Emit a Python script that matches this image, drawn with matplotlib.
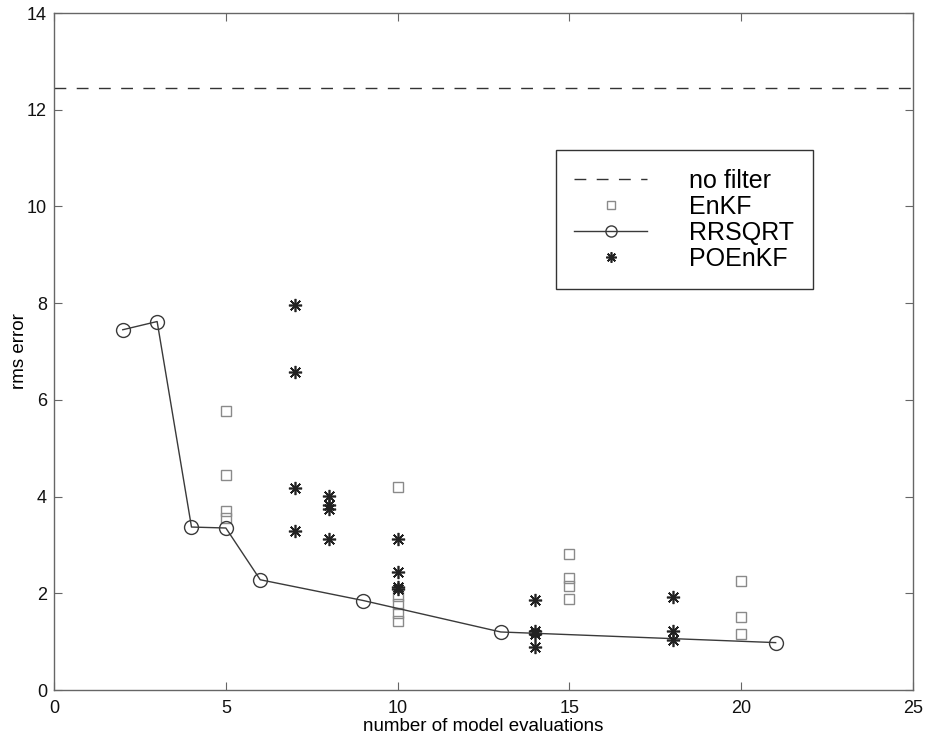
import numpy as np
import matplotlib.pyplot as plt

plt.rcParams['font.family'] = ['Liberation Sans', 'DejaVu Sans']

# Data
no_filter_level = 12.45

rrsqrt_n = [2, 3, 4, 5, 6, 9, 13, 21]
rrsqrt_err = [7.45, 7.62, 3.37, 3.35, 2.28, 1.85, 1.20, 0.98]

enkf_n = [5, 5, 5, 5,
          10, 10, 10, 10, 10,
          15, 15, 15, 15,
          20, 20, 20]
enkf_err = [5.78, 4.45, 3.70, 3.55,
            4.19, 1.95, 1.78, 1.60, 1.43,
            2.82, 2.32, 2.16, 1.88,
            2.26, 1.52, 1.16]

poenkf_n = [7, 7, 7, 7,
            8, 8, 8, 8,
            10, 10, 10, 10,
            14, 14, 14, 14,
            18, 18, 18]
poenkf_err = [7.97, 6.58, 4.17, 3.29,
              4.01, 3.82, 3.74, 3.12,
              3.13, 2.43, 2.12, 2.09,
              1.86, 1.22, 1.15, 0.89,
              1.92, 1.23, 1.04]

fig = plt.figure(figsize=(9.27, 7.39), dpi=100)
ax = fig.add_axes([0.0583, 0.0663, 0.9267, 0.9161])

ax.axhline(no_filter_level, color='#333333', linestyle=(0, (8.5, 7.5)), linewidth=1.0,
           label='no filter')
ax.plot(enkf_n, enkf_err, linestyle='none', marker='s', markersize=7.5,
        markerfacecolor='none', markeredgecolor='#8a8a8a', markeredgewidth=1.0,
        label='EnKF')
ax.plot(rrsqrt_n, rrsqrt_err, color='#3a3a3a', linewidth=1.0, marker='o',
        markersize=10, markerfacecolor='none', markeredgecolor='#3a3a3a',
        markeredgewidth=1.0, label='RRSQRT')
ax.plot(poenkf_n, poenkf_err, linestyle='none', marker=(8, 2, 0), markersize=9.5,
        markeredgecolor='#222222', markeredgewidth=1.2, label='POEnKF')

ax.set_xlim(0, 25)
ax.set_ylim(0, 14)
ax.set_xticks([0, 5, 10, 15, 20, 25])
ax.set_yticks(range(0, 15, 2))
ax.tick_params(direction='in', length=6, width=0.8, colors='#666666',
               labelcolor='#111111', labelsize=13, top=True, right=True)
ax.tick_params(axis='x', pad=7)
ax.tick_params(axis='y', pad=5)
for s in ax.spines.values():
    s.set_color('#666666')
    s.set_linewidth(1.0)

ax.set_xlabel('number of model evaluations', fontsize=13.5, labelpad=1)
ax.set_ylabel('rms error', fontsize=13.5, labelpad=-1)

leg = ax.legend(loc='upper left', bbox_to_anchor=(0.584, 0.798), fontsize=18,
                fancybox=False, framealpha=1, edgecolor='#333333',
                handlelength=2.9, handletextpad=1.7, borderpad=0.75,
                labelspacing=0.08, borderaxespad=0, markerscale=0.8)
leg.get_frame().set_linewidth(1.0)

fig.savefig('out.png', dpi=100)
